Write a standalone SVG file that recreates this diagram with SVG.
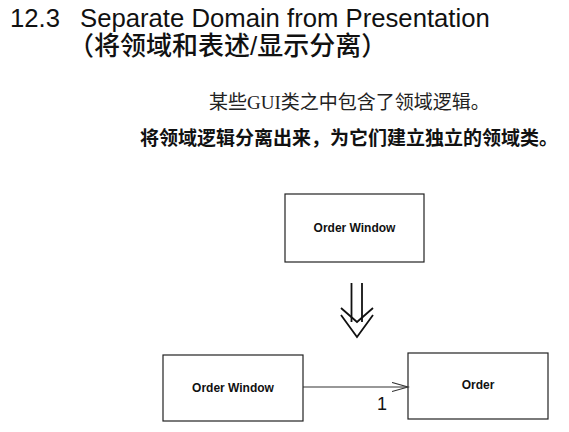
<svg xmlns="http://www.w3.org/2000/svg" width="569" height="432" viewBox="0 0 569 432">
  <defs>
    <style>
      .title { font-family: "Liberation Sans", Arial, sans-serif; font-size: 25.7px; fill: #111; }
      .title-cn { font-family: "Liberation Sans", "Noto Sans CJK SC", sans-serif; font-size: 26px; font-weight: 500; fill: #111; }
      .note { font-family: "Liberation Serif", "Noto Sans CJK SC", serif; font-size: 19px; fill: #222; }
      .note-bold { font-family: "Noto Sans CJK SC", sans-serif; font-size: 19px; font-weight: bold; fill: #111; }
      .box { fill: #fff; stroke: #222; stroke-width: 1.2; }
      .label { font-family: "Liberation Sans", Arial, sans-serif; font-size: 12px; font-weight: bold; fill: #111; text-anchor: middle; }
      .edge { fill: none; stroke: #333; stroke-width: 1.2; }
      .mult { font-family: "Liberation Sans", Arial, sans-serif; font-size: 18px; fill: #111; text-anchor: middle; }
      .refine { fill: none; stroke: #111; stroke-width: 1.8; }
    </style>
    <marker id="open-arrow" markerWidth="18" markerHeight="12" refX="16" refY="5" orient="auto" markerUnits="userSpaceOnUse">
      <polyline points="0,0.5 16,5 0,9.5" fill="none" stroke="#333" stroke-width="1.2"/>
    </marker>
  </defs>

  <rect width="569" height="432" fill="#fff"/>

  <!-- heading -->
  <text class="title" x="10" y="27">12.3</text>
  <text class="title" x="80" y="27">Separate Domain from Presentation</text>
  <text class="title-cn" x="68" y="55">（将领域和表述/显示分离）</text>

  <!-- notes -->
  <text class="note" x="209" y="109">某些GUI类之中包含了领域逻辑。</text>
  <text class="note-bold" x="140" y="145">将领域逻辑分离出来，为它们建立独立的领域类。</text>

  <!-- before -->
  <g id="order-window-before">
    <rect class="box" x="285" y="194" width="139" height="68"/>
    <text class="label" x="354.5" y="232">Order Window</text>
  </g>

  <!-- refinement arrow -->
  <g id="refactor-arrow">
    <line class="refine" x1="351.5" y1="283" x2="351.5" y2="322"/>
    <line class="refine" x1="362" y1="283" x2="362" y2="322"/>
    <polyline class="refine" points="341,308 357,322 373,308"/>
    <polyline class="refine" points="341,315 357,337 373,315"/>
  </g>

  <!-- after -->
  <g id="order-window">
    <rect class="box" x="163" y="355" width="140" height="66"/>
    <text class="label" x="233" y="392">Order Window</text>
  </g>
  <g id="order">
    <rect class="box" x="408" y="353" width="140" height="66"/>
    <text class="label" x="478" y="389">Order</text>
  </g>

  <g id="connectors">
    <line class="edge" x1="303" y1="387" x2="408" y2="387" marker-end="url(#open-arrow)"/>
    <text class="mult" x="382" y="410">1</text>
  </g>
</svg>
